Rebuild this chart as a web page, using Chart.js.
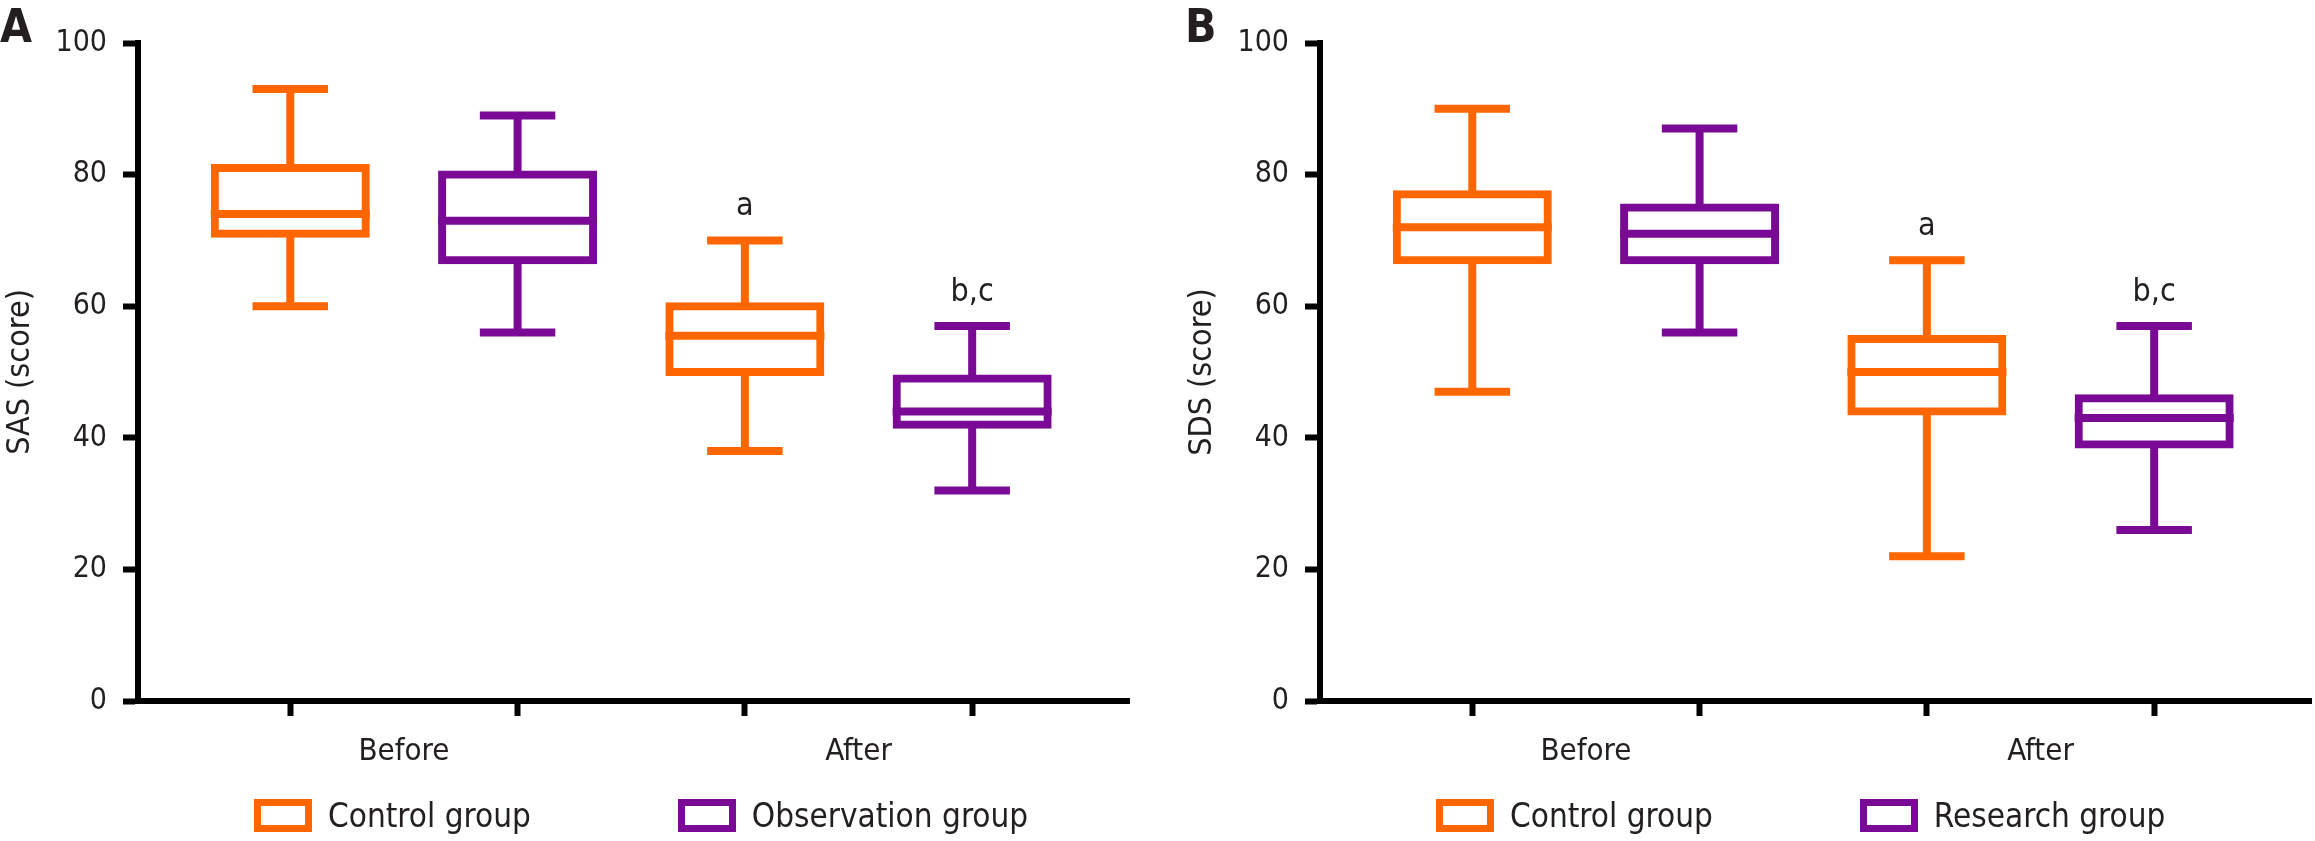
<!DOCTYPE html>
<html>
<head>
<meta charset="utf-8">
<script src="https://cdn.jsdelivr.net/npm/chart.js@4.4.0/dist/chart.umd.min.js"></script>
<style>
  html, body { margin: 0; background: #fff; overflow: hidden; }
  .panel { position: absolute; top: 0; width: 1160px; height: 841px; }
  .panel canvas { position: absolute; left: 0; top: 0; }
  .tag { position: absolute; top: 3px; font: bold 46px "DejaVu Sans Condensed", "DejaVu Sans", sans-serif; line-height: 46px; color: #231f20; }
  .legend { position: absolute; left: 254px; top: 799px; display: flex; align-items: center; white-space: nowrap;
            font: 33px "DejaVu Sans Condensed", "DejaVu Sans", sans-serif; line-height: 33px; color: #231f20; }
  .legend .item { display: flex; align-items: center; margin-right: 147px; }
  .legend .swatch { width: 58px; height: 33px; box-sizing: border-box; border: 7px solid; margin-right: 16px; background: #fff; }
</style>
</head>
<body>
<div class="panel" style="left:0">
  <canvas id="sas_chart" width="1160" height="841"></canvas>
  <div class="tag" style="left:0">A</div>
  <div class="legend" id="sas_legend"></div>
</div>
<div class="panel" style="left:1182px">
  <canvas id="sds_chart" width="1160" height="841"></canvas>
  <div class="tag" style="left:3px">B</div>
  <div class="legend" id="sds_legend"></div>
</div>
<script>
const timePoints = ['Before', 'After'];
// [min, Q1, median, Q3, max] for each time point
const sasControl = [[60, 71, 74, 81, 93], [38, 50, 55.5, 60, 70]];
const sasObservation = [[56, 67, 73, 80, 89], [32, 42, 44, 49, 57]];
const sdsControl = [[47, 67, 72, 77, 90], [22, 44, 50, 55, 67]];
const sdsResearch = [[56, 67, 71, 75, 87], [26, 39, 43, 46, 57]];
// letters written over the boxes
const controlMarks = ['', 'a'];
const treatedMarks = ['', 'b,c'];
const yTicks = [0, 20, 40, 60, 80, 100];

const ORANGE = '#ff6600';
const PURPLE = '#7a0a96';
const INK = '#231f20';
const FONT = '"DejaVu Sans Condensed", "DejaVu Sans", sans-serif';

// box positions 1..4, group labels sit half way between
const xTickValues = timePoints.flatMap((t, i) => [2 * i + 1, 2 * i + 1.5, 2 * i + 2]);

function boxDataset(label, color, stats, marks, slot) {
    return {
        label: label,
        data: stats.map((s, i) => ({ x: 2 * i + slot, y: [s[1], s[3]] })),
        stats: stats,
        marks: marks,
        backgroundColor: '#fff',
        borderColor: color,
        borderWidth: 8,
        borderSkipped: false,
        inflateAmount: 4,
        barThickness: 151,
        grouped: false
    };
}

// whiskers, caps, median line and the letters
var whiskers = {
    id: 'whiskers',
    afterDatasetsDraw(chart) {
        const ctx = chart.ctx;
        const y = chart.scales.y;
        ctx.save();
        chart.data.datasets.forEach((ds, d) => {
            chart.getDatasetMeta(d).data.forEach((bar, i) => {
                const s = ds.stats[i];
                const half = bar.width / 2 + 4;
                const cap = bar.width / 4;
                const p = s.map(v => y.getPixelForValue(v));
                ctx.strokeStyle = ds.borderColor;
                ctx.lineWidth = 8;
                ctx.lineCap = 'butt';
                ctx.beginPath();
                ctx.moveTo(bar.x, p[3]); ctx.lineTo(bar.x, p[4]);
                ctx.moveTo(bar.x, p[1]); ctx.lineTo(bar.x, p[0]);
                ctx.moveTo(bar.x - cap, p[4]); ctx.lineTo(bar.x + cap, p[4]);
                ctx.moveTo(bar.x - cap, p[0]); ctx.lineTo(bar.x + cap, p[0]);
                ctx.moveTo(bar.x - half, p[2]); ctx.lineTo(bar.x + half, p[2]);
                ctx.stroke();
                if (ds.marks[i]) {
                    ctx.fillStyle = INK;
                    ctx.font = '32px ' + FONT;
                    ctx.textAlign = 'center';
                    ctx.textBaseline = 'alphabetic';
                    ctx.fillText(ds.marks[i], bar.x, p[4] - 25);
                }
            });
        });
        ctx.restore();
    }
};

function makeChart(canvasId, yTitle, datasets) {
    return new Chart(document.getElementById(canvasId), {
        type: 'bar',
        data: { datasets: datasets },
        options: {
            responsive: false,
            animation: false,
            devicePixelRatio: 1,
            layout: { padding: { top: 43, right: 31, bottom: 0, left: 0 } },
            plugins: { legend: { display: false }, tooltip: { enabled: false } },
            scales: {
                x: {
                    type: 'linear',
                    min: 0.33,
                    max: 4.69,
                    offset: false,
                    afterBuildTicks: axis => { axis.ticks = xTickValues.map(v => ({ value: v })); },
                    afterFit: axis => { axis.height = 140; },
                    border: { color: '#000', width: 6 },
                    grid: {
                        drawOnChartArea: false,
                        offset: false,
                        tickLength: 15,
                        tickWidth: 6,
                        tickColor: c => (c.tick && c.tick.value % 1) ? 'rgba(0,0,0,0)' : '#000'
                    },
                    ticks: {
                        autoSkip: false,
                        maxRotation: 0,
                        padding: 17,
                        color: INK,
                        font: { family: FONT, size: 31 },
                        callback: v => (v % 1) ? timePoints[(v - 1.5) / 2] : ''
                    }
                },
                y: {
                    min: 0,
                    max: 100,
                    afterBuildTicks: axis => { axis.ticks = yTicks.map(v => ({ value: v })); },
                    afterFit: axis => { axis.width = 138; },
                    border: { color: '#000', width: 6 },
                    grid: { drawOnChartArea: false, tickLength: 15, tickWidth: 6, tickColor: '#000' },
                    ticks: { padding: 16, color: INK, font: { family: FONT, size: 30 } },
                    title: {
                        display: true,
                        text: yTitle,
                        color: INK,
                        font: { family: FONT, size: 32 },
                        padding: { top: 1, bottom: 0 }
                    }
                }
            }
        },
        plugins: [whiskers]
    });
}

function buildLegend(chart, el) {
    chart.data.datasets.forEach(ds => {
        const item = document.createElement('div');
        item.className = 'item';
        const swatch = document.createElement('span');
        swatch.className = 'swatch';
        swatch.style.borderColor = ds.borderColor;
        const text = document.createElement('span');
        text.textContent = ds.label;
        item.append(swatch, text);
        el.append(item);
    });
}

var sas_chart = makeChart('sas_chart', 'SAS (score)', [
    boxDataset('Control group', ORANGE, sasControl, controlMarks, 1),
    boxDataset('Observation group', PURPLE, sasObservation, treatedMarks, 2)
]);
buildLegend(sas_chart, document.getElementById('sas_legend'));

var sds_chart = makeChart('sds_chart', 'SDS (score)', [
    boxDataset('Control group', ORANGE, sdsControl, controlMarks, 1),
    boxDataset('Research group', PURPLE, sdsResearch, treatedMarks, 2)
]);
buildLegend(sds_chart, document.getElementById('sds_legend'));
</script>
</body>
</html>
